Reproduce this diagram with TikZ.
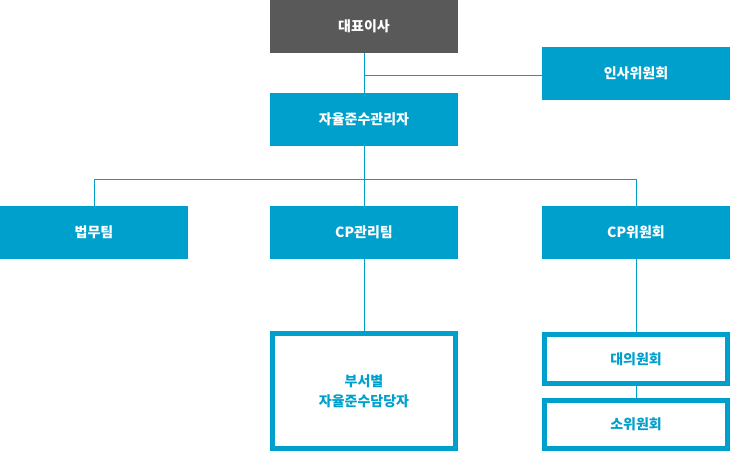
\documentclass[tikz,border=0pt]{standalone}
\usepackage{fontspec}
\setmainfont{Noto Sans CJK KR}
\begin{document}
\begin{tikzpicture}[x=1pt,y=-1pt,
  box/.style={rectangle, fill=cpblue, text=white, minimum width=188pt, minimum height=53pt, inner sep=0pt, font=\fontsize{14}{16}\selectfont\bfseries},
  obox/.style={rectangle, draw=cpblue, line width=5pt, fill=white, text=cpblue, minimum width=183pt, inner sep=0pt, align=center, font=\fontsize{14}{20}\selectfont\bfseries},
  conn/.style={draw=cpblue, line width=1pt}]
\definecolor{cpblue}{HTML}{00A0CD}
\definecolor{ceogray}{HTML}{595959}
\useasboundingbox (0,0) rectangle (730,452);
\node[box, fill=ceogray] (ceo) at (364,26.5) {대표이사};
\node[box] (hr) at (636,73.5) {인사위원회};
\node[box] (cco) at (364,119.5) {자율준수관리자};
\node[box] (legal) at (94,232.5) {법무팀};
\node[box] (cpm) at (364,232.5) {CP관리팀};
\node[box] (cpc) at (636,232.5) {CP위원회};
\node[obox, minimum height=115pt] (dept) at (364,391) {부서별\\자율준수담당자};
\node[obox, minimum height=48.5pt] (grand) at (636,359) {대의원회};
\node[obox, minimum height=48.5pt] (sub) at (636,424.5) {소위원회};
\coordinate (j1) at (364,75);
\coordinate (bus) at (364,179.5);
\draw[conn] (ceo.south) -- (cco.north);
\draw[conn] (j1) -- (hr.west |- j1);
\draw[conn] (cco.south) -- (cpm.north);
\draw[conn] (legal.north) |- (bus) -| (cpc.north);
\draw[conn] (cpm.south) -- (dept.north);
\draw[conn] (cpc.south) -- (grand.north);
\draw[conn] (grand.south) -- (sub.north);
\end{tikzpicture}
\end{document}
